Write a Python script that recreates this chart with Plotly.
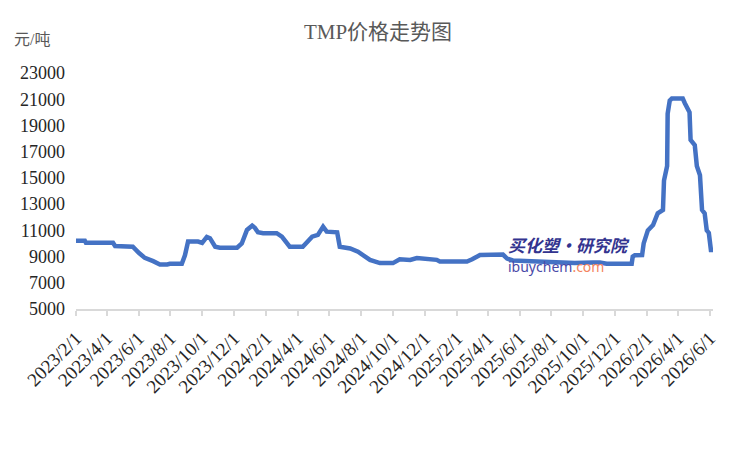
import plotly.graph_objects as go

# ---- data ----
dates = [
    "2023-02-01", "2023-02-18", "2023-02-20", "2023-04-13", "2023-04-17", "2023-05-21",
    "2023-06-02", "2023-06-13", "2023-06-29", "2023-07-12", "2023-07-26", "2023-07-31",
    "2023-08-23", "2023-08-29", "2023-09-04", "2023-09-23", "2023-10-01", "2023-10-10",
    "2023-10-16", "2023-10-26", "2023-11-04", "2023-12-07", "2023-12-16", "2023-12-26",
    "2024-01-05", "2024-01-10", "2024-01-16", "2024-01-26", "2024-02-21", "2024-03-02",
    "2024-03-12", "2024-03-17", "2024-04-11", "2024-04-19", "2024-04-29", "2024-05-10",
    "2024-05-20", "2024-05-27", "2024-06-16", "2024-06-21", "2024-07-11", "2024-07-26",
    "2024-08-08", "2024-08-18", "2024-09-06", "2024-10-01", "2024-10-14", "2024-11-03",
    "2024-11-16", "2024-12-05", "2024-12-24", "2024-12-30", "2025-02-20", "2025-03-02",
    "2025-03-17", "2025-04-30", "2025-05-08", "2025-05-19", "2025-06-10", "2025-07-16",
    "2025-08-01", "2025-09-15", "2025-10-20", "2025-11-02", "2025-11-15", "2026-01-02",
    "2026-01-04", "2026-01-08", "2026-01-22", "2026-01-25", "2026-02-02", "2026-02-12",
    "2026-02-21", "2026-03-03", "2026-03-05", "2026-03-11", "2026-03-12", "2026-03-16",
    "2026-03-20", "2026-04-10", "2026-04-14", "2026-04-20", "2026-04-23", "2026-04-25",
    "2026-05-03", "2026-05-07", "2026-05-13", "2026-05-17", "2026-05-22", "2026-05-26",
    "2026-05-30", "2026-06-03", "2026-06-07",
]
prices = [
    10200, 10200, 10050, 10050, 9800, 9750,
    9270, 8900, 8650, 8400, 8400, 8450,
    8450, 9100, 10150, 10150, 10050, 10500,
    10400, 9750, 9680, 9680, 10000, 11030,
    11360, 11200, 10850, 10780, 10780, 10520,
    10000, 9750, 9750, 10130, 10520, 10650,
    11280, 10900, 10850, 9750, 9620, 9370,
    9000, 8740, 8500, 8500, 8790, 8740,
    8890, 8800, 8750, 8620, 8620, 8790,
    9120, 9150, 8850, 8700, 8650, 8600,
    8550, 8500, 8550, 8550, 8450, 8450,
    9000, 9100, 9120, 10000, 11000, 11400,
    12300, 12550, 14800, 15900, 19900, 20900,
    21050, 21050, 20700, 20100, 20000, 17900,
    17500, 15900, 15200, 12550, 12300, 11000,
    10800, 9500, 9500,
]
tick_dates = [
    "2023-02-01", "2023-04-01", "2023-06-01", "2023-08-01", "2023-10-01", "2023-12-01",
    "2024-02-01", "2024-04-01", "2024-06-01", "2024-08-01", "2024-10-01", "2024-12-01",
    "2025-02-01", "2025-04-01", "2025-06-01", "2025-08-01", "2025-10-01", "2025-12-01",
    "2026-02-01", "2026-04-01", "2026-06-01",
]
tick_labels = [
    "2023/2/1", "2023/4/1", "2023/6/1", "2023/8/1", "2023/10/1", "2023/12/1",
    "2024/2/1", "2024/4/1", "2024/6/1", "2024/8/1", "2024/10/1", "2024/12/1",
    "2025/2/1", "2025/4/1", "2025/6/1", "2025/8/1", "2025/10/1", "2025/12/1",
    "2026/2/1", "2026/4/1", "2026/6/1",
]
y_ticks = [5000, 7000, 9000, 11000, 13000, 15000, 17000, 19000, 21000, 23000]

SERIF = "Liberation Serif, 'Times New Roman', 'Noto Sans CJK SC', serif"

fig = go.Figure()
fig.add_trace(go.Scatter(
    x=dates, y=prices, mode="lines",
    line=dict(color="#4472C4", width=4.5),
    hoverinfo="skip", showlegend=False,
))

fig.update_layout(
    width=750, height=449,
    margin=dict(l=76, r=37, t=73, b=140),
    paper_bgcolor="white", plot_bgcolor="white",
    title=dict(
        text="TMP价格走势图",
        x=0.504, xref="container", xanchor="center",
        y=1 - 32 / 449, yref="container", yanchor="middle",
        font=dict(family=SERIF, size=21, color="#595959"),
    ),
    xaxis=dict(
        type="date",
        range=["2023-02-01", "2026-06-07"],
        tickmode="array", tickvals=tick_dates, ticktext=tick_labels,
        tickangle=-45,
        showgrid=False, zeroline=False,
        showline=True, linecolor="#d9d9d9", linewidth=1.5,
        ticks="outside", tickcolor="#d9d9d9", ticklen=5, tickwidth=1.5,
        ticklabelstandoff=4,
        tickfont=dict(family=SERIF, size=19, color="#262626"),
    ),
    yaxis=dict(
        range=[5000, 23000],
        tickmode="array", tickvals=y_ticks,
        tickformat="d",
        showgrid=False, zeroline=False, showline=False,
        ticks="", ticklabelstandoff=10,
        tickfont=dict(family=SERIF, size=18, color="#262626"),
    ),
    annotations=[
        dict(
            text="元/吨", xref="paper", yref="paper",
            x=(12 - 76) / 637, y=(309 - 40) / 236,
            xanchor="left", yanchor="middle", showarrow=False,
            font=dict(family=SERIF, size=16, color="#595959"),
        ),
        dict(
            text="<b><i>买化塑·研究院</i></b>", xref="paper", yref="paper",
            x=(506 - 76) / 637, y=(309 - 244) / 236,
            xanchor="left", yanchor="middle", showarrow=False,
            font=dict(family="'Noto Sans CJK SC', sans-serif", size=17, color="#33348f"),
        ),
        dict(
            text="ibuychem<span style='color:#f4845f'>.com</span>",
            xref="paper", yref="paper",
            x=(506 - 76) / 637, y=(309 - 266) / 236,
            xanchor="left", yanchor="middle", showarrow=False,
            font=dict(family="'Noto Sans', sans-serif", size=14, color="#4a4aa8"),
        ),
    ],
)

fig.write_html("out.html")
